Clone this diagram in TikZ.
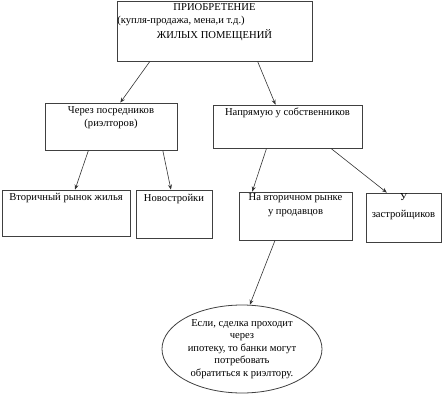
\documentclass[tikz,border=0pt]{standalone}
\usepackage{fontspec}
\setmainfont{Liberation Serif}
\usetikzlibrary{arrows.meta,calc,positioning,shapes.geometric}

\begin{document}
\begin{tikzpicture}[x=1pt,y=-1pt,>=Stealth,font=\fontsize{10.6}{12.5}\selectfont,
  box/.style={draw=black!75,line width=0.8pt,inner sep=0pt},
  txt/.style={inner sep=0pt,align=center,anchor=north},
  link/.style={->,draw=black!80,line width=0.6pt,-{Stealth[length=5pt,width=4pt]}}]
  \useasboundingbox (0,0) rectangle (442,399);
  % boxes
  \node[box,minimum width=195pt,minimum height=60pt] (buy) at (214.5,31) {};
  \node[box,minimum width=132pt,minimum height=47pt] (agent) at (111,126.5) {};
  \node[box,minimum width=149pt,minimum height=43pt] (direct) at (287.5,126.5) {};
  \node[box,minimum width=128pt,minimum height=46pt] (resale) at (66,213) {};
  \node[box,minimum width=76pt,minimum height=48pt] (newbld) at (174,214) {};
  \node[box,minimum width=113pt,minimum height=48pt] (seller) at (295.5,216) {};
  \node[box,minimum width=75pt,minimum height=49pt] (builder) at (403.5,217.5) {};
  \node[box,ellipse,minimum width=160pt,minimum height=88pt,align=center] (bank) at (242,349)
    {Если, сделка проходит\\через\\ипотеку, то банки могут\\потребовать\\обратиться к риэлтору.};
  % texts
  \node[txt] (buyT) at ($(buy.north)+(0,3)$) {ПРИОБРЕТЕНИЕ};
  \node[inner sep=0pt,anchor=north west] (buyK) at ($(buy.north west)+(0.5,15)$) {(купля-продажа, мена,и т.д.)};
  \node[txt] (buyZ) at ($(buy.north)+(0,28.5)$) {ЖИЛЫХ ПОМЕЩЕНИЙ};
  \node[txt] (agentT) at ($(agent.north)+(0,4)$) {Через посредников\\(риэлторов)};
  \node[txt] (directT) at ($(direct.north)+(0,3)$) {Напрямую у собственников};
  \node[txt] (resaleT) at ($(resale.north)+(0,3)$) {Вторичный рынок жилья};
  \node[txt] (newbldT) at ($(newbld.north)+(0,4)$) {Новостройки};
  \node[txt] (sellerT) at ($(seller.north)+(0,2)$) {На вторичном рынке\\[1.5pt]у продавцов};
  \node[txt] (builderT) at ($(builder.north)+(0,1)$) {У\\[4pt]застройщиков};
  % arrows
  \draw[link] ($(buy.south west)!0.17!(buy.south east)$) -- ($(agent.north west)!0.57!(agent.north east)$);
  \draw[link] ($(buy.south west)!0.72!(buy.south east)$) -- ($(direct.north west)!0.42!(direct.north east)$);
  \draw[link] ($(agent.south west)!0.33!(agent.south east)$) -- ($(resale.north west)!0.57!(resale.north east)$);
  \draw[link] ($(agent.south west)!0.89!(agent.south east)$) -- ($(newbld.north west)!0.46!(newbld.north east)$);
  \draw[link] ($(direct.south west)!0.36!(direct.south east)$) -- ($(seller.north west)!0.12!(seller.north east)$);
  \draw[link] ($(direct.south west)!0.79!(direct.south east)$) -- ($(builder.north west)!0.28!(builder.north east)$);
  \draw[link] ($(seller.south west)!0.32!(seller.south east)$) -- (bank.80);
\end{tikzpicture}
\end{document}
